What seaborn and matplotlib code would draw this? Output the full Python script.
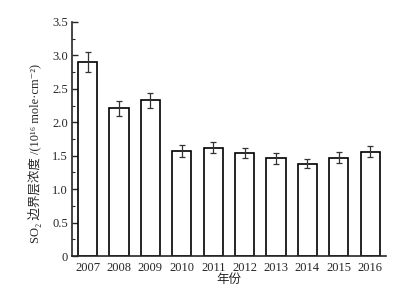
import matplotlib
matplotlib.use("Agg")
import matplotlib.pyplot as plt
import seaborn as sns
import pandas as pd
from matplotlib.ticker import MultipleLocator, FuncFormatter

years = ["2007", "2008", "2009", "2010", "2011", "2012", "2013", "2014", "2015", "2016"]
so2 = [2.90, 2.21, 2.33, 1.57, 1.62, 1.54, 1.46, 1.38, 1.47, 1.56]
err = [0.15, 0.11, 0.11, 0.09, 0.08, 0.08, 0.08, 0.07, 0.08, 0.08]

df = pd.DataFrame({"年份": years, "SO2": so2, "err": err})

sns.set_style("ticks")
plt.rcParams["font.family"] = ["Liberation Serif", "Noto Sans CJK SC", "DejaVu Serif"]

fig = plt.figure(figsize=(3.93, 2.92), dpi=100)
ax = fig.add_axes([0.183, 0.123, 0.799, 0.802])

sns.barplot(data=df, x="年份", y="SO2", color="white", edgecolor="black",
            linewidth=1.2, width=0.61, errorbar=None, ax=ax)
ax.errorbar(range(len(years)), df["SO2"], yerr=df["err"], fmt="none",
            ecolor="#333333", elinewidth=0.9, capsize=2.5, capthick=0.9)

ax.set_xlim(-0.5, 9.5)
ax.set_ylim(0, 3.5)
ax.yaxis.set_major_locator(MultipleLocator(0.5))
ax.yaxis.set_minor_locator(MultipleLocator(0.25))
ax.yaxis.set_major_formatter(FuncFormatter(lambda v, p: "0" if v == 0 else f"{v:.1f}"))
ax.tick_params(axis="y", direction="in", length=4, width=1, labelsize=9, pad=3)
ax.tick_params(axis="y", which="minor", direction="in", length=2, width=0.8)
ax.tick_params(axis="x", length=0, labelsize=9, pad=4)
sns.despine(ax=ax)
for s in ["left", "bottom"]:
    ax.spines[s].set_linewidth(1.2)

ax.set_xlabel("年份", fontsize=9, labelpad=0)
ax.set_ylabel("SO₂ 边界层浓度 /(10¹⁶ mole·cm⁻²)", fontsize=9)
ax.yaxis.set_label_coords(-0.095, 0.44)

fig.savefig("out.png", dpi=100, facecolor="white")
